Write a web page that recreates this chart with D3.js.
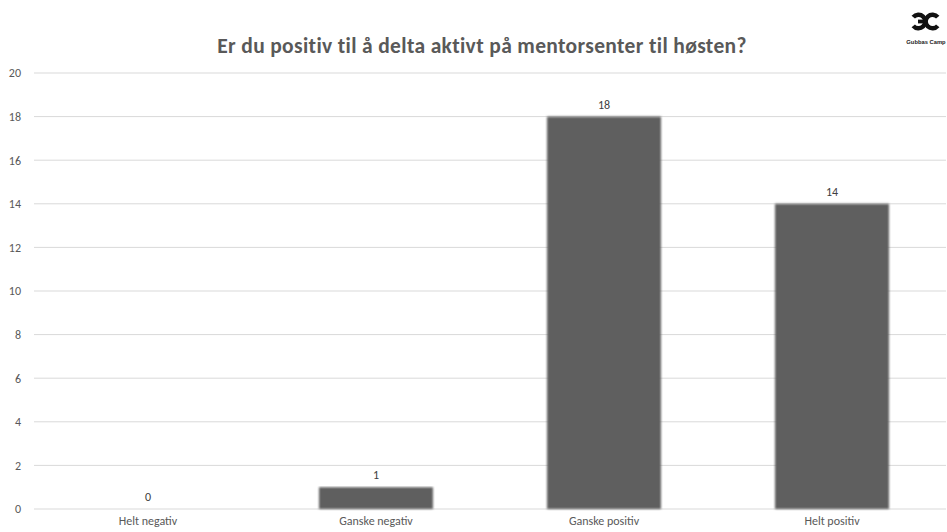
<!DOCTYPE html>
<html><head><meta charset="utf-8">
<script src="https://cdn.jsdelivr.net/npm/d3@7/dist/d3.min.js"></script>
<style>body{margin:0;background:#fff;}svg{display:block;}</style>
</head><body>
<svg id="c" width="947" height="532"></svg>
<script>
const categories = ["Helt negativ", "Ganske negativ", "Ganske positiv", "Helt positiv"];
const values = [0, 1, 18, 14];
const yTicks = [0, 2, 4, 6, 8, 10, 12, 14, 16, 18, 20];
const title = "Er du positiv til å delta aktivt på mentorsenter til høsten?";

(function(){
const svg = d3.select("#c");
const mL = 34, mR = 946, mT = 73, mB = 509;
const x = d3.scaleBand().domain(categories).range([mL, mR]).paddingInner(0.5).paddingOuter(0.25);
const y = d3.scaleLinear().domain([0, 20]).range([mB, mT]);
const font = "Calibri, Carlito, 'Open Sans', 'Noto Sans', sans-serif";

const defs = svg.append("defs");
const f = defs.append("filter").attr("id","soft").attr("x","-5%").attr("y","-5%").attr("width","110%").attr("height","110%");
f.append("feGaussianBlur").attr("stdDeviation", 0.9);

svg.append("text").attr("x", 482).attr("y", 53).attr("text-anchor","middle")
  .attr("font-family", font).attr("font-weight","bold").attr("font-size", 21.5)
  .attr("letter-spacing", 0.35).attr("fill","#595959").text(title);

const grid = svg.append("g");
grid.selectAll("line").data(yTicks).join("line")
  .attr("x1", mL).attr("x2", mR).attr("y1", d => y(d)).attr("y2", d => y(d))
  .attr("stroke", "#d9d9d9").attr("stroke-width", 1);

const yAxis = svg.append("g").attr("transform", `translate(${mL - 13},0)`)
  .call(d3.axisLeft(y).tickValues(yTicks).tickSize(0).tickPadding(0));
yAxis.select(".domain").remove();
yAxis.selectAll("text").attr("font-family", font).attr("font-size", 12).attr("fill", "#595959");

svg.append("g").selectAll("rect").data(values).join("rect")
  .attr("x", (d,i) => x(categories[i])).attr("width", x.bandwidth())
  .attr("y", d => y(d)).attr("height", d => y(0) - y(d))
  .attr("fill", "#5f5f5f").attr("filter","url(#soft)");

svg.append("g").selectAll("text").data(values).join("text")
  .attr("x", (d,i) => x(categories[i]) + x.bandwidth()/2).attr("y", d => y(d) - 8)
  .attr("text-anchor","middle").attr("font-family", font).attr("font-size", 12).attr("fill","#404040")
  .text(d => d);

const xAxis = svg.append("g").attr("transform", `translate(0,${mB})`)
  .call(d3.axisBottom(x).tickSize(0).tickPadding(7));
xAxis.select(".domain").remove();
xAxis.selectAll("text").attr("font-family", font).attr("font-size", 12).attr("fill", "#595959");

// logo
const logo = svg.append("g");
const arc = d3.arc().innerRadius(4.6).outerRadius(9);
logo.append("path").attr("transform","translate(918.5,21.5)")
  .attr("d", arc({startAngle: -0.28*Math.PI, endAngle: 1.28*Math.PI})).attr("fill","#111");
logo.append("rect").attr("x",918).attr("y",19.6).attr("width",8).attr("height",3.8).attr("fill","#111");
logo.append("path").attr("transform","translate(932.5,21.5)")
  .attr("d", arc({startAngle: 0.72*Math.PI, endAngle: 2.28*Math.PI})).attr("fill","#111");
logo.append("text").attr("x",926).attr("y",44).attr("text-anchor","middle")
  .attr("font-family","'Liberation Sans', sans-serif").attr("font-weight","bold").attr("font-size",5.8).attr("fill","#222").text("Gubbas Camp");
})();
</script>
</body></html>
